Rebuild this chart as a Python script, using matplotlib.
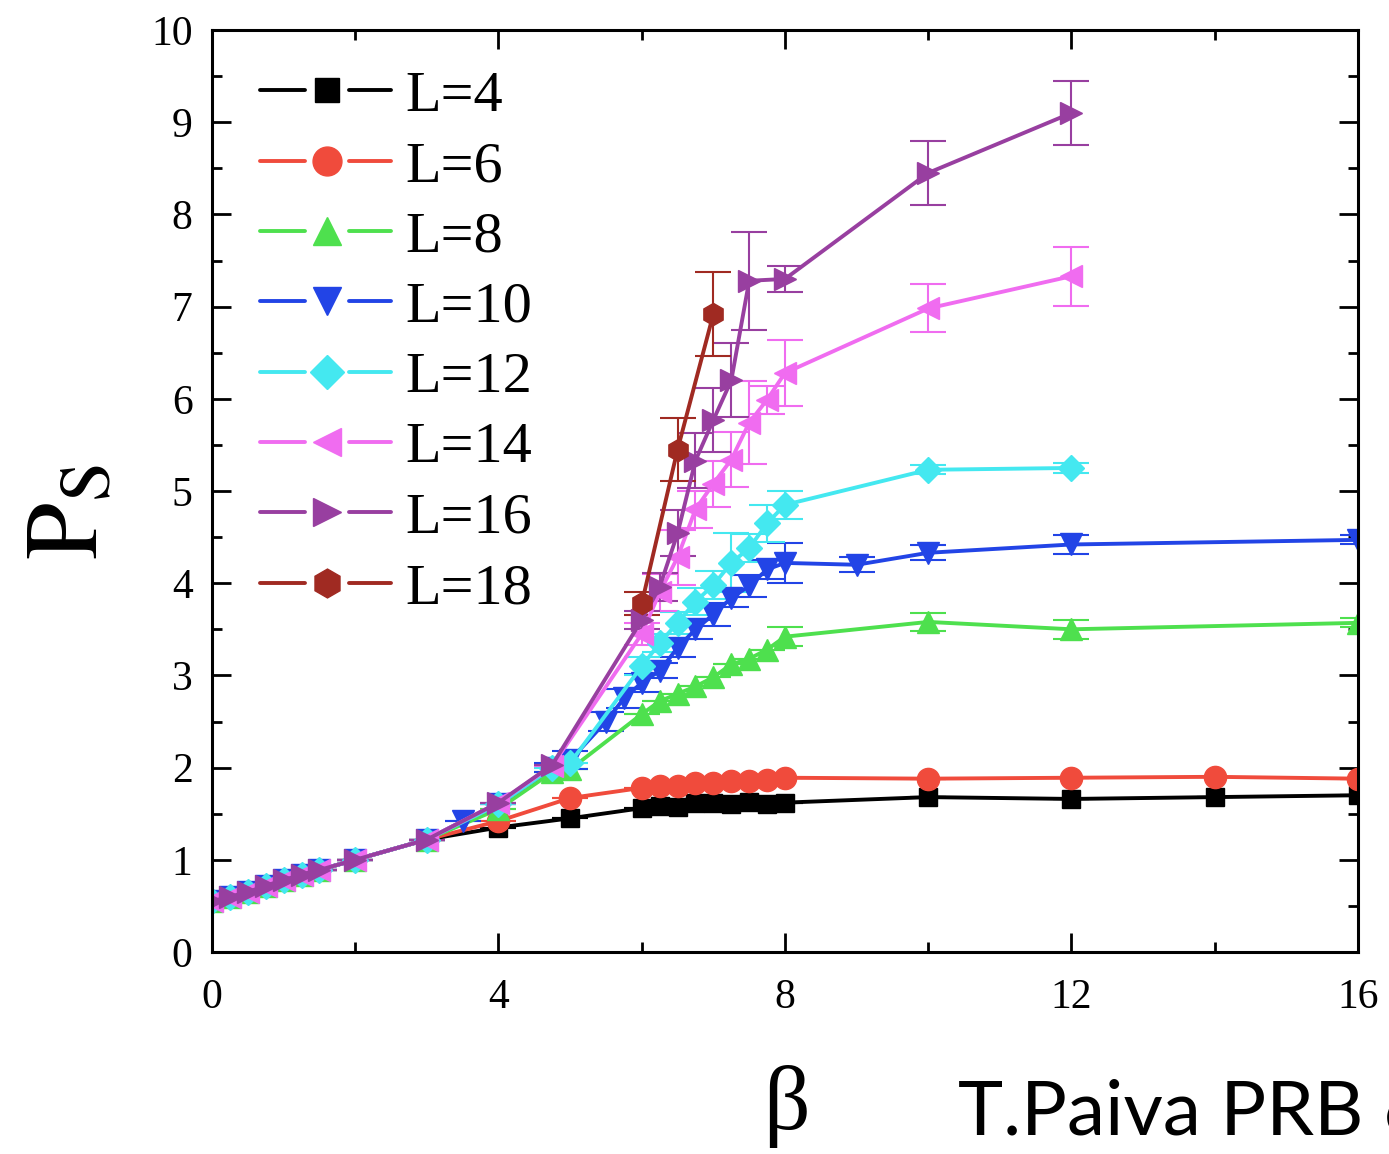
import numpy as np
import matplotlib
matplotlib.use("Agg")
import matplotlib.pyplot as plt
from matplotlib.ticker import MultipleLocator
from matplotlib.lines import Line2D
from matplotlib.legend_handler import HandlerBase

plt.rcParams['font.family'] = ['Liberation Serif', 'DejaVu Serif']
plt.rcParams['mathtext.fontset'] = 'stix'

# low beta points shared by all sizes
x_low = [0, 0.25, 0.5, 0.75, 1, 1.25, 1.5, 2, 3, 4]
y_low = [0.55, 0.6, 0.65, 0.72, 0.78, 0.84, 0.89, 1.0, 1.22, 1.35]

# L=4
x4 = x_low + [5, 6, 6.25, 6.5, 6.75, 7, 7.25, 7.5, 7.75, 8, 10, 12, 14, 16]
y4 = y_low[:-1] + [1.35, 1.45, 1.56, 1.58, 1.57, 1.62, 1.62, 1.6, 1.63, 1.6, 1.62, 1.68, 1.66, 1.68, 1.7]
e4 = [0.0] * len(x4)

# L=6
x6 = x_low + [5, 6, 6.25, 6.5, 6.75, 7, 7.25, 7.5, 7.75, 8, 10, 12, 14, 16]
y6 = y_low[:-1] + [1.42, 1.67, 1.78, 1.8, 1.8, 1.83, 1.83, 1.85, 1.86, 1.87, 1.89, 1.88, 1.89, 1.9, 1.88]
e6 = [0.0] * len(x6)

# L=8
x8 = x_low + [4.75, 5, 6, 6.25, 6.5, 6.75, 7, 7.25, 7.5, 7.75, 8, 10, 12, 16]
y8 = y_low[:-1] + [1.55, 1.95, 1.98, 2.58, 2.72, 2.8, 2.88, 2.98, 3.12, 3.18, 3.28, 3.42, 3.58, 3.5, 3.57]
e8 = [0.0] * 20 + [0.1, 0.1, 0.1, 0.05]

# L=10
x10 = x_low[:-2] + [3, 3.5, 4, 4.75, 5, 5.5, 5.75, 6, 6.25, 6.5, 6.75, 7, 7.25, 7.5, 7.75, 8, 9, 10, 12, 16]
y10 = y_low[:-2] + [1.22, 1.42, 1.6, 2.0, 2.08, 2.5, 2.75, 2.92, 3.05, 3.3, 3.5, 3.66, 3.84, 3.97, 4.15, 4.22, 4.2, 4.33, 4.42, 4.47]
e10 = [0.0] * 11 + [0.05, 0.1, 0.1, 0.1, 0.1, 0.08, 0.1, 0.1, 0.12, 0.1, 0.12, 0.1, 0.22, 0.08, 0.08, 0.1, 0.05]

# L=12
x12 = x_low + [4.75, 5, 6, 6.25, 6.5, 6.75, 7, 7.25, 7.5, 7.75, 8, 10, 12]
y12 = y_low[:-1] + [1.6, 2.0, 2.05, 3.1, 3.35, 3.57, 3.8, 3.98, 4.22, 4.38, 4.65, 4.85, 5.23, 5.25]
e12 = [0.0] * 12 + [0.1, 0.1, 0.12, 0.15, 0.15, 0.32, 0.15, 0.2, 0.15, 0.05, 0.05]

# L=14
x14 = x_low + [4.75, 6, 6.25, 6.5, 6.75, 7, 7.25, 7.5, 7.75, 8, 10, 12]
y14 = y_low[:-1] + [1.62, 2.02, 3.45, 3.9, 4.28, 4.8, 5.08, 5.34, 5.74, 5.99, 6.28, 6.98, 7.33]
e14 = [0.0] * 11 + [0.12, 0.2, 0.3, 0.2, 0.25, 0.3, 0.45, 0.15, 0.36, 0.26, 0.32]

# L=16
x16 = x_low + [4.75, 6, 6.25, 6.5, 6.75, 7, 7.25, 7.5, 8, 10, 12]
y16 = y_low[:-1] + [1.62, 2.03, 3.6, 3.96, 4.54, 5.33, 5.77, 6.2, 7.28, 7.3, 8.45, 9.1]
e16 = [0.0] * 11 + [0.1, 0.15, 0.25, 0.3, 0.35, 0.4, 0.53, 0.14, 0.35, 0.35]

# L=18
x18 = [6, 6.5, 7]
y18 = [3.78, 5.45, 6.92]
e18 = [0.12, 0.34, 0.46]

labels = ['L=4', 'L=6', 'L=8', 'L=10', 'L=12', 'L=14', 'L=16', 'L=18']
colors = ['#000000', '#f04b3c', '#4ee04e', '#2244e6', '#44e8f0', '#f06cf0', '#983fa0', '#a02a22']
markers = ['s', 'o', '^', 'v', 'D', '<', '>', 'h']
msizes = [13, 16, 16, 16, 13, 16, 16, 16]

series = [(x4, y4, e4), (x6, y6, e6), (x8, y8, e8), (x10, y10, e10),
          (x12, y12, e12), (x14, y14, e14), (x16, y16, e16), (x18, y18, e18)]


# legend entry drawn as line - marker - line with gaps (Origin style)
class GapHandler(HandlerBase):
    def create_artists(self, legend, orig_handle, xdescent, ydescent,
                       width, height, fontsize, trans):
        y = height / 2 - ydescent
        x0 = -xdescent
        c = orig_handle.get_color()
        lw = orig_handle.get_linewidth()
        l1 = Line2D([x0, x0 + 0.34 * width], [y, y], color=c, lw=lw, solid_capstyle='round')
        l2 = Line2D([x0 + 0.68 * width, x0 + width], [y, y], color=c, lw=lw, solid_capstyle='round')
        mk = Line2D([x0 + 0.51 * width], [y], color=c, linestyle='none',
                    marker=orig_handle.get_marker(), markersize=orig_handle.get_markersize())
        for a in (l1, l2, mk):
            a.set_transform(trans)
        return [l1, l2, mk]


fig = plt.figure(figsize=(13.89, 11.54), dpi=100)
ax = fig.add_axes([212 / 1389, 1 - 952 / 1154, 1146 / 1389, 922 / 1154])

for (x, y, e), lab, c, m, ms in zip(series, labels, colors, markers, msizes):
    ax.errorbar(x, y, yerr=e, color=c, marker=m, markersize=ms, linewidth=2.8,
                elinewidth=1.5, capsize=13, capthick=1.5, label=lab)

ax.set_xlim(0, 16)
ax.set_ylim(0, 10)
ax.xaxis.set_major_locator(MultipleLocator(4))
ax.xaxis.set_minor_locator(MultipleLocator(2))
ax.yaxis.set_major_locator(MultipleLocator(1))
ax.yaxis.set_minor_locator(MultipleLocator(0.5))
ax.tick_params(which='both', direction='in', top=True, right=True, width=2, labelsize=30)
ax.tick_params(which='major', length=14)
ax.tick_params(which='minor', length=7)
ax.tick_params(axis='x', pad=19)
ax.tick_params(axis='y', pad=14)
for s in ax.spines.values():
    s.set_linewidth(2.2)

# Set legend
proxies = [Line2D([], [], color=c, marker=m, markersize=ms * 1.3, linewidth=2.8)
           for c, m, ms in zip(colors, markers, msizes)]
ax.legend(proxies, labels, loc='upper left', bbox_to_anchor=(48 / 1146, 1 - 40 / 922),
          frameon=False, fontsize=42, handlelength=2.25, handletextpad=0.25,
          labelspacing=0.3, borderpad=0, borderaxespad=0,
          handler_map={Line2D: GapHandler()})

# Axis labels
fig.text(0.052, 0.556, r'$\mathrm{P}_{\mathrm{S}}$', rotation=90, fontsize=74,
         ha='center', va='center')
fig.text(786 / 1389, 1 - 1107 / 1154, 'β', fontsize=66, ha='center', va='center')
fig.text(958 / 1389, 1 - 1135 / 1154, 'T.Paiva PRB 69 (2004)', fontsize=55,
         family=['Lato', 'DejaVu Sans'], ha='left', va='baseline')

plt.savefig('out.png', dpi=100)
